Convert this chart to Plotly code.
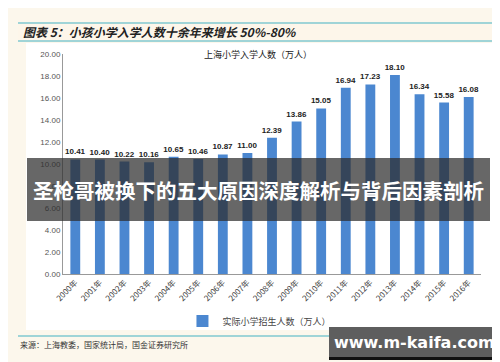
import plotly.graph_objects as go

years = ["2000年", "2001年", "2002年", "2003年", "2004年", "2005年", "2006年", "2007年", "2008年",
         "2009年", "2010年", "2011年", "2012年", "2013年", "2014年", "2015年", "2016年"]
enrolment = [10.41, 10.40, 10.22, 10.16, 10.65, 10.46, 10.87, 11.00, 12.39,
             13.86, 15.05, 16.94, 17.23, 18.10, 16.34, 15.58, 16.08]
y_ticks = [0, 2, 4, 6, 8, 10, 12, 14, 16, 18, 20]

W, H = 500, 362
L, R, T, B = 55, 27, 46, 96
PW, PH = W - L - R, H - T - B

def px(x):
    return (x - L) / PW

def py(y):
    return (H - B - y) / PH

FONT = "Noto Sans CJK SC, Noto Sans, sans-serif"

fig = go.Figure()
fig.add_trace(go.Bar(
    x=years, y=enrolment, name="实际小学招生人数（万人）",
    marker=dict(color="#4b87d0", line=dict(width=0)),
    texttemplate="<b>%{y:.2f}</b>", textposition="outside", constraintext="none",
    textfont=dict(size=8, color="#222", family="Liberation Sans, Arial, sans-serif"),
    cliponaxis=False,
))

shapes = [
    dict(type="rect", xref="paper", yref="paper", x0=px(18), x1=px(485), y0=py(322), y1=py(35),
         fillcolor="white", line=dict(width=0), layer="below"),
    dict(type="rect", xref="paper", yref="paper", x0=px(10), x1=px(500), y0=py(33), y1=py(15),
         fillcolor="#fdf6ea", line=dict(width=0), layer="below"),
    dict(type="line", xref="paper", yref="paper", x0=px(10), x1=px(500), y0=py(15), y1=py(15),
         line=dict(color="#80c8d0", width=1.5), layer="below"),
    dict(type="line", xref="paper", yref="paper", x0=px(10), x1=px(500), y0=py(33), y1=py(33),
         line=dict(color="#80c8d0", width=1.5), layer="below"),
    dict(type="line", xref="paper", yref="paper", x0=px(10), x1=px(500), y0=py(328), y1=py(328),
         line=dict(color="#80c8d0", width=1.5), layer="below"),
    dict(type="rect", xref="paper", yref="paper", x0=px(19), x1=px(482), y0=py(213), y1=py(150),
         fillcolor="rgba(45,45,45,0.72)", line=dict(width=0), layer="above"),
    dict(type="rect", xref="paper", yref="paper", x0=px(321), x1=px(491), y0=py(352), y1=py(319),
         fillcolor="#5e5e5e", line=dict(width=0), layer="above"),
    dict(type="rect", xref="paper", yref="paper", x0=px(321), x1=px(491), y0=py(352), y1=py(349),
         fillcolor="#111", line=dict(width=0), layer="above"),
]

annotations = [
    dict(text="<b><i>图表 5：小孩小学入学人数十余年来增长 50%-80%</i></b>", xref="paper", yref="paper",
         x=px(13), y=py(24), xanchor="left", yanchor="middle", showarrow=False,
         font=dict(size=12, color="#222", family=FONT)),
    dict(text="上海小学入学人数（万人）", xref="paper", yref="paper", x=px(250), y=py(47),
         xanchor="center", yanchor="middle", showarrow=False,
         font=dict(size=9, color="#222", family=FONT)),
    dict(text="<b>圣枪哥被换下的五大原因深度解析与背后因素剖析</b>", xref="paper", yref="paper",
         x=px(250), y=py(182), xanchor="center", yanchor="middle", showarrow=False,
         font=dict(size=20.5, color="white", family=FONT)),
    dict(text="来源：上海教委，国家统计局，国金证券研究所", xref="paper", yref="paper",
         x=px(10), y=py(336), xanchor="left", yanchor="middle", showarrow=False,
         font=dict(size=8, color="#333", family=FONT)),
    dict(text="<b>www.m-kaifa.com</b>", xref="paper", yref="paper",
         x=px(406), y=py(334), xanchor="center", yanchor="middle", showarrow=False,
         font=dict(size=16, color="white", family="DejaVu Sans, sans-serif")),
]

fig.update_layout(
    width=W, height=H,
    margin=dict(l=L, r=R, t=T, b=B),
    paper_bgcolor="#fcf7ec", plot_bgcolor="white",
    bargap=0.6,
    showlegend=True,
    legend=dict(orientation="h", x=0.47, xanchor="center", y=py(313), yanchor="middle",
                bgcolor="rgba(0,0,0,0)", font=dict(size=9, color="#444", family=FONT),
                itemwidth=30),
    xaxis=dict(showgrid=False, showline=True, linecolor="#999", linewidth=1, tickangle=-45,
               tickfont=dict(size=8, color="#444", family=FONT), ticks=""),
    yaxis=dict(range=[0, 20], tickvals=y_ticks, tickformat=".2f", showgrid=False,
               showline=True, linecolor="#999", linewidth=1, zeroline=False,
               tickfont=dict(size=8, color="#555", family="Liberation Sans, Arial, sans-serif"),
               ticks=""),
    shapes=shapes, annotations=annotations,
    font=dict(family=FONT),
)

fig.write_html("out.html")
